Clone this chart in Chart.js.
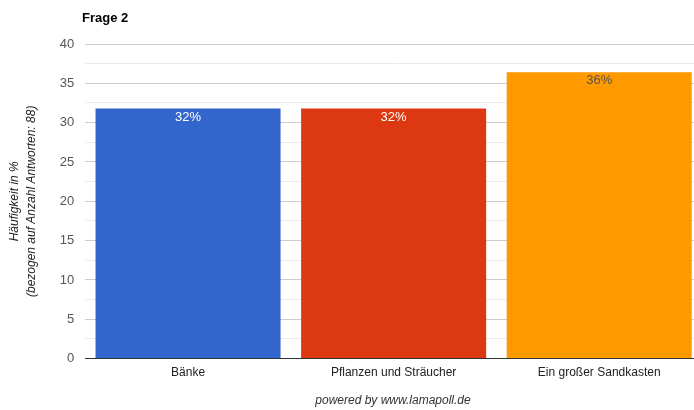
<!DOCTYPE html>
<html>
<head>
<meta charset="utf-8">
<script src="https://cdn.jsdelivr.net/npm/chart.js@4"></script>
<style>
  html, body { margin: 0; padding: 0; background: #fff; overflow: hidden; }
  #wrap { width: 702px; height: 410px; }
</style>
</head>
<body>
<div id="wrap"><canvas id="chart"></canvas></div>
<script>
const categories = ['Bänke', 'Pflanzen und Sträucher', 'Ein großer Sandkasten'];
const values = [31.8, 31.8, 36.4];
const valueLabels = ['32%', '32%', '36%'];
const barColors = ['#3366cc', '#dc3912', '#ff9900'];
const labelColors = ['#ffffff', '#ffffff', '#555555'];

const FONT = '"Liberation Sans", Arial, sans-serif';

const extras = {
  id: 'extras',
  afterDatasetsDraw(chart) {
    const ctx = chart.ctx;
    const meta = chart.getDatasetMeta(0);
    ctx.save();
    ctx.font = '13px ' + FONT;
    ctx.textAlign = 'center';
    ctx.textBaseline = 'top';
    meta.data.forEach((bar, i) => {
      ctx.fillStyle = labelColors[i];
      ctx.fillText(valueLabels[i], bar.x, bar.y + 2);
    });
    ctx.restore();
  },
  afterDraw(chart) {
    const ctx = chart.ctx;
    ctx.save();
    ctx.fillStyle = '#000';
    ctx.font = 'bold 13px ' + FONT;
    ctx.textAlign = 'left';
    ctx.textBaseline = 'middle';
    ctx.fillText('Frage 2', 82, 18);
    ctx.fillStyle = '#333';
    ctx.font = 'italic 12px ' + FONT;
    ctx.textAlign = 'center';
    ctx.fillText('powered by www.lamapoll.de', 393, 401);
    ctx.restore();
  }
};

new Chart(document.getElementById('chart'), {
  type: 'bar',
  data: {
    labels: categories,
    datasets: [{
      data: values,
      backgroundColor: barColors,
      borderWidth: 0,
      barPercentage: 0.9,
      categoryPercentage: 1.0
    }]
  },
  options: {
    responsive: true,
    maintainAspectRatio: false,
    animation: false,
    layout: { padding: { top: 44, right: 0, bottom: 31, left: 6 } },
    plugins: {
      legend: { display: false },
      tooltip: { enabled: false }
    },
    scales: {
      x: {
        grid: { display: false },
        border: { display: true, color: '#333', width: 1 },
        ticks: { color: '#222', font: { size: 12, family: FONT }, padding: -1 }
      },
      y: {
        min: 0,
        max: 40,
        border: { display: false },
        grid: {
          drawTicks: false,
          color: (c) => c.tick.value === 0 ? '#333' : (c.tick.value % 5 === 0 ? '#cccccc' : '#ebebeb')
        },
        ticks: {
          stepSize: 2.5,
          padding: 11,
          color: '#555',
          font: { size: 13, family: FONT },
          callback: (v) => v % 5 === 0 ? v : ''
        },
        title: {
          display: true,
          text: ['Häufigkeit in %', '(bezogen auf Anzahl Antworten: 88)'],
          color: '#222',
          font: { size: 12, style: 'italic', family: FONT, lineHeight: 1.45 },
          padding: { top: 0, bottom: 8 }
        }
      }
    }
  },
  plugins: [extras]
});
</script>
</body>
</html>
